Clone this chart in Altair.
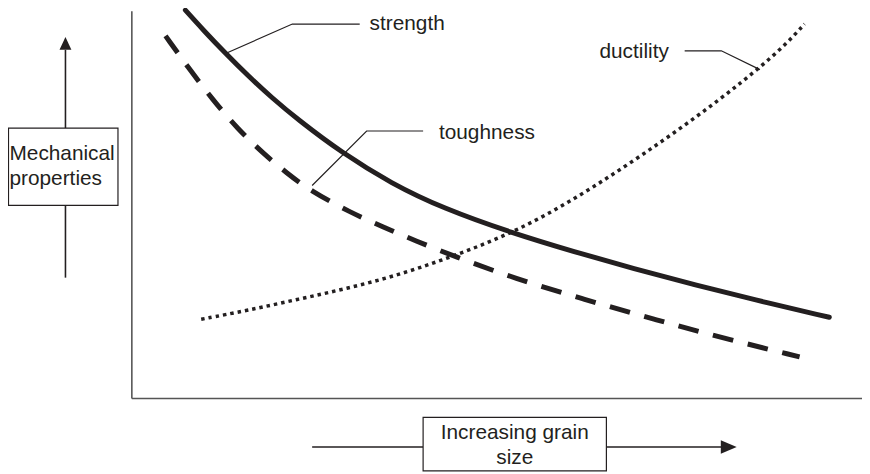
import altair as alt
import pandas as pd

# Coordinates in arbitrary units, origin at the corner of the axes
# x: grain size, y: mechanical property
strength_x = [54, 72, 94, 117, 142, 167, 212, 262, 314, 384, 447, 507, 567, 627, 704]
strength_y = [392, 372, 349, 326, 303, 282, 248, 217, 192, 167, 148, 131, 115, 100, 82]

toughness_x = [34, 57, 82, 107, 132, 157, 180, 220, 254, 287, 324, 387, 457, 527, 597, 674]
toughness_y = [366, 334, 301, 272, 248, 227, 210, 188, 173, 159, 144, 121, 100, 80, 61, 42]

ductility_x = [70, 117, 167, 217, 267, 317, 367, 417, 467, 517, 567, 617, 657, 679]
ductility_y = [80, 89, 100, 111, 124, 141, 160, 184, 214, 247, 282, 320, 354, 378]

# curve labels and their leader lines
label_text = ["strength", "toughness", "ductility"]
label_x = [240, 310, 472]
label_y = [378, 268, 350]

leader_id = ["strength"] * 3 + ["toughness"] * 3 + ["ductility"] * 3
leader_x = [230, 162, 94, 294, 237, 182, 558, 595, 634]
leader_y = [378, 378, 348, 270, 270, 215, 351, 351, 332]

# axes lines
axis_x = [0, 0]
axis_x2 = [0, 737]
axis_y = [0, 0]
axis_y2 = [391, 0]

# annotation boxes
box_x = [-124.5, 294]
box_x2 = [-14, 479]
box_y = [273, -19]
box_y2 = [195, -73]

box_text = ["Mechanical", "properties", "Increasing grain", "size"]
box_text_x = [-123.5, -123.5, 386.5, 386.5]
box_text_y = [247, 222, -35, -60]
box_text_align = ["left", "left", "center", "center"]

# arrow shafts
shaft_x = [-67, -67, 182, 479]
shaft_x2 = [-67, -67, 294, 596]
shaft_y = [352, 195, -49, -49]
shaft_y2 = [273, 122, -49, -49]

# arrow heads
head_up_x = [-67]
head_up_y = [358.5]
head_right_x = [602.5]
head_right_y = [-49]

INK = "#231f20"
FONT = "Liberation Sans"
FS = 21

xs = alt.Scale(domain=[-125, 737], nice=False, zero=False)
ys = alt.Scale(domain=[-74, 392], nice=False, zero=False)


def X(f="x"):
    return alt.X(f"{f}:Q", scale=xs, axis=None)


def Y(f="y"):
    return alt.Y(f"{f}:Q", scale=ys, axis=None)


def curve(xv, yv):
    return pd.DataFrame({"x": xv, "y": yv, "i": list(range(len(xv)))})


axes = alt.Chart(pd.DataFrame({"x": axis_x, "x2": axis_x2, "y": axis_y, "y2": axis_y2})).mark_rule(
    color="#555555", strokeWidth=1.6
).encode(x=X(), x2="x2:Q", y=Y(), y2="y2:Q")

strength = alt.Chart(curve(strength_x, strength_y)).mark_line(
    color=INK, strokeWidth=5, interpolate="basis", strokeCap="round"
).encode(x=X(), y=Y(), order="i:Q")

toughness = alt.Chart(curve(toughness_x, toughness_y)).mark_line(
    color=INK, strokeWidth=5, interpolate="basis", strokeDash=[21, 15]
).encode(x=X(), y=Y(), order="i:Q")

ductility = alt.Chart(curve(ductility_x, ductility_y)).mark_line(
    color=INK, strokeWidth=3.5, interpolate="basis", strokeDash=[3.5, 4]
).encode(x=X(), y=Y(), order="i:Q")

leaders = alt.Chart(pd.DataFrame({"id": leader_id, "x": leader_x, "y": leader_y,
                                   "i": list(range(len(leader_x)))})).mark_line(
    color=INK, strokeWidth=1.2
).encode(x=X(), y=Y(), detail="id:N", order="i:Q")

labels = alt.Chart(pd.DataFrame({"t": label_text, "x": label_x, "y": label_y})).mark_text(
    align="left", baseline="middle", font=FONT, fontSize=FS, color=INK
).encode(x=X(), y=Y(), text="t:N")

shafts = alt.Chart(pd.DataFrame({"x": shaft_x, "x2": shaft_x2, "y": shaft_y, "y2": shaft_y2})).mark_rule(
    color=INK, strokeWidth=1.6
).encode(x=X(), x2="x2:Q", y=Y(), y2="y2:Q")

head_up = alt.Chart(pd.DataFrame({"x": head_up_x, "y": head_up_y})).mark_point(
    shape="M0,-1L-0.92,1L0.92,1Z", filled=True, size=169, color=INK, opacity=1
).encode(x=X(), y=Y())

head_right = alt.Chart(pd.DataFrame({"x": head_right_x, "y": head_right_y})).mark_point(
    shape="M1,0L-1,-0.85L-1,0.85Z", filled=True, size=256, color=INK, opacity=1
).encode(x=X(), y=Y())

boxes = alt.Chart(pd.DataFrame({"x": box_x, "x2": box_x2, "y": box_y, "y2": box_y2})).mark_rect(
    fill="white", stroke=INK, strokeWidth=1.2
).encode(x=X(), x2="x2:Q", y=Y(), y2="y2:Q")

btext_df = pd.DataFrame({"t": box_text, "x": box_text_x, "y": box_text_y, "a": box_text_align})
box_texts_left = alt.Chart(btext_df[btext_df.a == "left"]).mark_text(
    align="left", baseline="middle", font=FONT, fontSize=FS, color=INK
).encode(x=X(), y=Y(), text="t:N")
box_texts_center = alt.Chart(btext_df[btext_df.a == "center"]).mark_text(
    align="center", baseline="middle", font=FONT, fontSize=FS, color=INK
).encode(x=X(), y=Y(), text="t:N")

chart = alt.layer(
    axes, ductility, toughness, strength, leaders, labels,
    shafts, head_up, head_right, boxes, box_texts_left, box_texts_center
).properties(
    width=862, height=466, padding=0,
    autosize=alt.AutoSizeParams(type="none"),
    background="white",
).configure_view(stroke=None)

chart.save("out.html", embed_options={"renderer": "svg", "actions": False})
